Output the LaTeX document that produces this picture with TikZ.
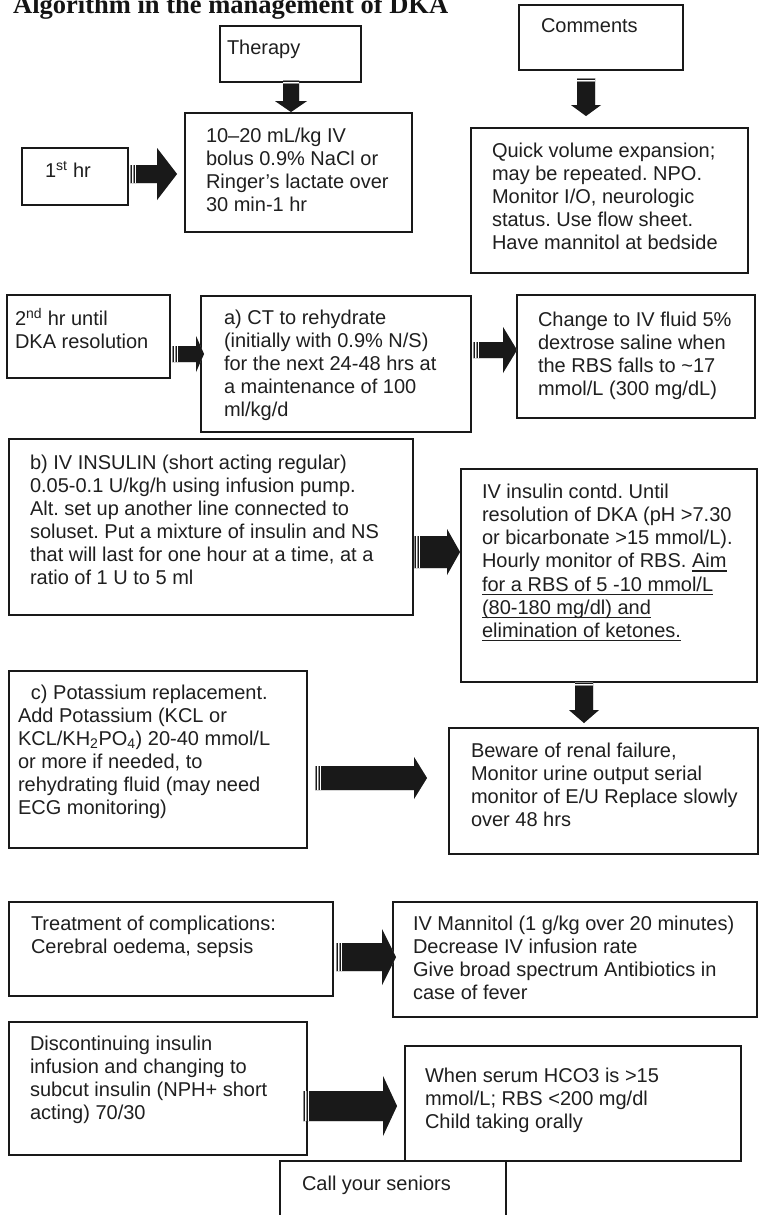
\documentclass[tikz,border=0pt]{standalone}
\usepackage{fontspec}
\setmainfont{Liberation Sans}
\newfontfamily\titlefont{Liberation Serif}
\usetikzlibrary{calc,fit}
\frenchspacing

% first-line strut: fixes the distance from the top of a text block to its first baseline
\newcommand\fl{\rule{0pt}{16pt}}
% underline at a fixed depth below the baseline
\newcommand\ulin[1]{\setbox0\hbox{#1}\rlap{\rule[-3.6pt]{\wd0}{1.3pt}}\box0}

% horizontal block arrow: style, tail, tip, shaft half-height, head half-height, head length
\newcommand\harr[6]{\fill[#1] let \p1=(#2), \p2=(#3) in
  (\x1,\y1+#4pt) -- (\x2-#6pt,\y1+#4pt) -- (\x2-#6pt,\y1+#5pt) -- (\x2,\y1)
  -- (\x2-#6pt,\y1-#5pt) -- (\x2-#6pt,\y1-#4pt) -- (\x1,\y1-#4pt) -- cycle;}
% vertical block arrow (pointing down): style, tail, tip, shaft half-width, head half-width, head length
\newcommand\varr[6]{\fill[#1] let \p1=(#2), \p2=(#3) in
  (\x1-#4pt,\y1) -- (\x1-#4pt,\y2+#6pt) -- (\x1-#5pt,\y2+#6pt) -- (\x1,\y2)
  -- (\x1+#5pt,\y2+#6pt) -- (\x1+#4pt,\y2+#6pt) -- (\x1+#4pt,\y1) -- cycle;}
% faded tail stripes
\newcommand\tailh[2]{%
  \draw[black!45, line width=0.9pt] let \p1=(#1) in
    (\x1+0.5pt,\y1+#2pt) -- (\x1+0.5pt,\y1-#2pt) (\x1+3.5pt,\y1+#2pt) -- (\x1+3.5pt,\y1-#2pt);
  \draw[white, line width=0.8pt] let \p1=(#1) in
    (\x1+2pt,\y1+#2pt) -- (\x1+2pt,\y1-#2pt) (\x1+5pt,\y1+#2pt) -- (\x1+5pt,\y1-#2pt);}
\newcommand\tailv[2]{%
  \draw[black!45, line width=0.9pt] let \p1=(#1) in
    (\x1-#2pt,\y1-0.5pt) -- (\x1+#2pt,\y1-0.5pt) (\x1-#2pt,\y1-3.5pt) -- (\x1+#2pt,\y1-3.5pt);
  \draw[white, line width=0.8pt] let \p1=(#1) in
    (\x1-#2pt,\y1-2pt) -- (\x1+#2pt,\y1-2pt);}
% complete arrows with drop shadow
\newcommand\blockh[5]{\harr{arrowshade}{#1}{#2}{#3}{#4}{#5}\harr{arrowfill}{#1}{#2}{#3}{#4}{#5}\tailh{#1}{#3}}
\newcommand\blockv[5]{\varr{arrowshade}{#1}{#2}{#3}{#4}{#5}\varr{arrowfill}{#1}{#2}{#3}{#4}{#5}\tailv{#1}{#3}}

\tikzset{
  box/.style={draw=black!90, line width=1.5pt, inner sep=0pt, outer sep=0pt},
  txt/.style={anchor=north west, inner sep=0pt, outer sep=0pt, align=left,
    text=black!88, font=\fontsize{20}{23}\selectfont},
  arrowfill/.style={fill=black!90},
  arrowshade/.style={fill=black!38, xshift=2pt, yshift=-2pt},
}

\begin{document}
\begin{tikzpicture}[x=1pt,y=-1pt]
\useasboundingbox (0,0) rectangle (759,1215);
\fill[white] (0,0) rectangle (759,1215);

\node[anchor=base west, inner sep=0pt, text=black!92,
  font=\titlefont\bfseries\fontsize{26.5}{30}\selectfont] (title) at (13,14)
  {Algorithm in the management of DKA};

% ---- boxes ----
\node[box, fit={(220,26) (361,82)}] (ther) {};
\node[box, fit={(519,5) (683,70)}] (comm) {};
\node[box, fit={(22,148) (128,205)}] (h1) {};
\node[box, fit={(185,113) (412,232)}] (bolus) {};
\node[box, fit={(471,128) (748,273)}] (quick) {};
\node[box, fit={(7,295) (170,378)}] (h2) {};
\node[box, fit={(201,296) (471,432)}] (rehyd) {};
\node[box, fit={(517,295) (755,418)}] (dext) {};
\node[box, fit={(9,439) (413,615)}] (insul) {};
\node[box, fit={(461,469) (757,682)}] (contd) {};
\node[box, fit={(9,671) (307,848)}] (potas) {};
\node[box, fit={(449,728) (758,854)}] (renal) {};
\node[box, fit={(9,902) (333,996)}] (compl) {};
\node[box, fit={(393,902) (757,1017)}] (mann) {};
\node[box, fit={(9,1022) (307,1155)}] (disc) {};
\node[box, fit={(405,1046) (741,1161)}] (when) {};
\node[box, fit={(280,1161) (506,1232)}] (call) {};

% ---- texts ----
\node[txt] (therT) at (227,39) {\fl Therapy};
\node[txt] (commT) at (541,17) {\fl Comments};
\node[txt] (h1T) at (45,161) {\fl 1\textsuperscript{st} hr};
\node[txt] (bolusT) at (206,126) {\fl 10–20 mL/kg IV\\bolus 0.9\% NaCl or\\Ringer’s lactate over\\30 min-1 hr};
\node[txt] (quickT) at (492,141) {\fl Quick volume expansion;\\may be repeated. NPO.\\Monitor I/O, neurologic\\status. Use flow sheet.\\Have mannitol at bedside};
\node[txt] (h2T) at (15,308) {\fl 2\textsuperscript{nd} hr until\\DKA resolution};
\node[txt] (rehydT) at (224,308) {\fl a) CT to rehydrate\\(initially with 0.9\% N/S)\\for the next 24-48 hrs at\\a maintenance of 100\\ml/kg/d};
\node[txt] (dextT) at (538,310) {\fl Change to IV fluid 5\%\\dextrose saline when\\the RBS falls to \textasciitilde 17\\mmol/L (300 mg/dL)};
\node[txt] (insulT) at (30,453) {\fl b) IV INSULIN (short acting regular)\\0.05-0.1 U/kg/h using infusion pump.\\Alt. set up another line connected to\\soluset. Put a mixture of insulin and NS\\that will last for one hour at a time, at a\\ratio of 1 U to 5 ml};
\node[txt, font=\fontsize{20}{23.3}\selectfont] (contdT) at (482,482) {\fl IV insulin contd. Until\\resolution of DKA (pH >7.30\\or bicarbonate >15 mmol/L).\\Hourly monitor of RBS. \ulin{Aim}\\\ulin{for a RBS of 5 -10 mmol/L}\\\ulin{(80-180 mg/dl) and}\\\ulin{elimination of ketones.}};
\node[txt] (potasT) at (18,683) {\fl\hspace*{13pt}c) Potassium replacement.\\Add Potassium (KCL or\\KCL/KH\textsubscript{2}PO\textsubscript{4}) 20-40 mmol/L\\or more if needed, to\\rehydrating fluid (may need\\ECG monitoring)};
\node[txt] (renalT) at (471,741) {\fl Beware of renal failure,\\Monitor urine output serial\\monitor of E/U Replace slowly\\over 48 hrs};
\node[txt] (complT) at (31,914) {\fl Treatment of complications:\\Cerebral oedema, sepsis};
\node[txt] (mannT) at (413,914) {\fl IV Mannitol (1 g/kg over 20 minutes)\\Decrease IV infusion rate\\Give broad spectrum Antibiotics in\\case of fever};
\node[txt] (discT) at (30,1034) {\fl Discontinuing insulin\\infusion and changing to\\subcut insulin (NPH+ short\\acting) 70/30};
\node[txt] (whenT) at (425,1066) {\fl When serum HCO3 is >15\\mmol/L; RBS <200 mg/dl\\Child taking orally};
\node[txt] (callT) at (302,1174) {\fl Call your seniors};

% ---- arrow ends ----
\coordinate (a1t) at (291,80);   \coordinate (a1h) at (291,112);
\coordinate (a2t) at (586,78);   \coordinate (a2h) at (586,116);
\coordinate (a3t) at (130,174);  \coordinate (a3h) at (177,174);
\coordinate (a4t) at (172,354);  \coordinate (a4h) at (204,354);
\coordinate (a5t) at (473,350);  \coordinate (a5h) at (517,350);
\coordinate (a6t) at (414,552);  \coordinate (a6h) at (460,552);
\coordinate (a7t) at (584,682);  \coordinate (a7h) at (584,723);
\coordinate (a8t) at (315,778);  \coordinate (a8h) at (427,778);
\coordinate (a9t) at (336,957);  \coordinate (a9h) at (396,957);
\coordinate (a10t) at (303,1106); \coordinate (a10h) at (397,1106);

% ---- arrows ----
\blockv{a1t}{a1h}{8}{16}{11}
\blockv{a2t}{a2h}{9}{15}{11}
\blockh{a3t}{a3h}{9}{26}{20}
\blockh{a4t}{a4h}{8}{18}{8}
\blockh{a5t}{a5h}{8}{23}{14}
\blockh{a6t}{a6h}{16}{23}{13}
\blockv{a7t}{a7h}{9}{15}{13}
\blockh{a8t}{a8h}{12}{21}{13}
\blockh{a9t}{a9h}{14}{28}{14}
\blockh{a10t}{a10h}{15}{30}{14}
\end{tikzpicture}
\end{document}
